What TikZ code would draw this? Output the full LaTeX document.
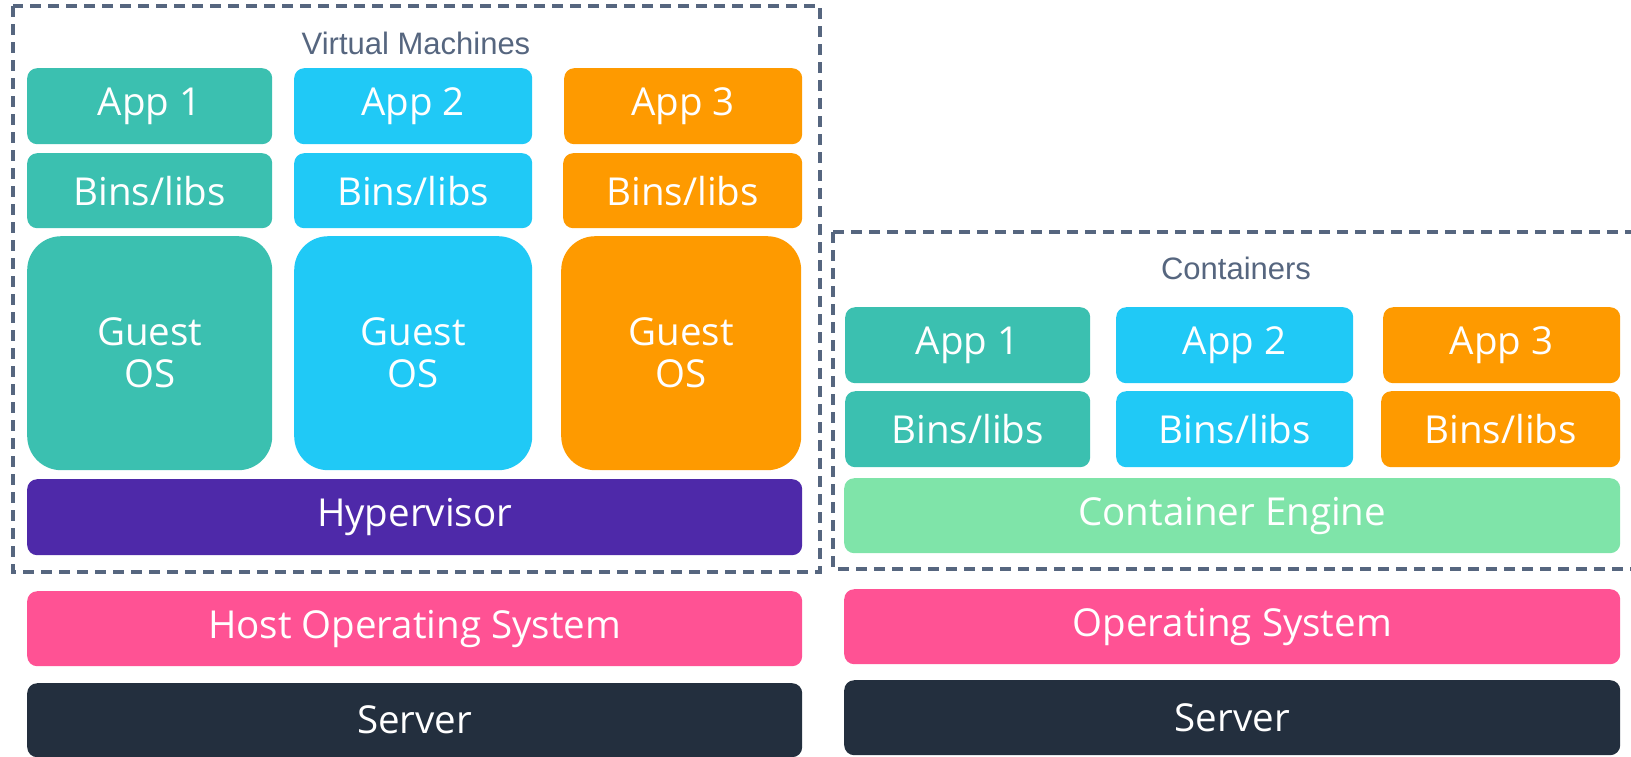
\documentclass[tikz,border=0pt]{standalone}
\usepackage{fontspec}
\setmainfont{Open Sans}
\newfontfamily\titlefont{Liberation Sans}
\definecolor{cteal}{HTML}{3BC0B0}
\definecolor{ccyan}{HTML}{20C9F6}
\definecolor{corange}{HTML}{FE9A00}
\definecolor{cpurple}{HTML}{4E29A9}
\definecolor{cgreen}{HTML}{7FE4A9}
\definecolor{cpink}{HTML}{FF5294}
\definecolor{cdark}{HTML}{232F3E}
\definecolor{cslate}{HTML}{56667F}
\begin{document}
\begin{tikzpicture}[x=1pt,y=-1pt,
  blk/.style={rectangle, rounded corners=10pt, inner sep=0pt, anchor=north west,
    text=white, align=center, font=\fontsize{38.5}{42}\selectfont},
  guest/.style={blk, rounded corners=34pt},
  group/.style={draw=cslate, line width=3.2pt, dash pattern=on 11pt off 7pt},
  grouptitle/.style={text=cslate, font=\titlefont\fontsize{31}{36}\selectfont, inner sep=0pt}]
\useasboundingbox (0,0) rectangle (1631,756);

% ---------- virtual machines ----------
\draw[group] (13,6) rectangle (820,572);
\node[grouptitle] (vmtitle) at (416,43) {Virtual Machines};

\node[blk, fill=cteal, minimum width=245pt, minimum height=76pt] (vapp1) at (27,68) {App 1};
\node[blk, fill=ccyan, minimum width=238pt, minimum height=76pt] (vapp2) at (294,68) {App 2};
\node[blk, fill=corange, minimum width=238pt, minimum height=76pt] (vapp3) at (564,68) {App 3};

\node[blk, fill=cteal, minimum width=245pt, minimum height=75pt] (vbin1) at (27,153) {Bins/libs};
\node[blk, fill=ccyan, minimum width=238pt, minimum height=75pt] (vbin2) at (294,153) {Bins/libs};
\node[blk, fill=corange, minimum width=239pt, minimum height=75pt] (vbin3) at (563,153) {Bins/libs};

\node[guest, fill=cteal, minimum width=245pt, minimum height=234pt] (vos1) at (27,236) {Guest\\OS};
\node[guest, fill=ccyan, minimum width=238pt, minimum height=234pt] (vos2) at (294,236) {Guest\\OS};
\node[guest, fill=corange, minimum width=240pt, minimum height=234pt] (vos3) at (561,236) {Guest\\OS};

\node[blk, fill=cpurple, minimum width=775pt, minimum height=76pt] (hyper) at (27,479) {Hypervisor};
\node[blk, fill=cpink, minimum width=775pt, minimum height=75pt] (hostos) at (27,591) {Host Operating System};
\node[blk, fill=cdark, minimum width=775pt, minimum height=74pt] (vserver) at (27,683) {Server};

% ---------- containers ----------
\draw[group] (833,232) -- (1640,232) (833,232) -- (833,569) -- (1640,569);
\node[grouptitle] (ctitle) at (1236,268) {Containers};

\node[blk, fill=cteal, minimum width=245pt, minimum height=76pt] (capp1) at (845,307) {App 1};
\node[blk, fill=ccyan, minimum width=237pt, minimum height=76pt] (capp2) at (1116,307) {App 2};
\node[blk, fill=corange, minimum width=237pt, minimum height=76pt] (capp3) at (1383,307) {App 3};

\node[blk, fill=cteal, minimum width=245pt, minimum height=76pt] (cbin1) at (845,391) {Bins/libs};
\node[blk, fill=ccyan, minimum width=237pt, minimum height=76pt] (cbin2) at (1116,391) {Bins/libs};
\node[blk, fill=corange, minimum width=239pt, minimum height=76pt] (cbin3) at (1381,391) {Bins/libs};

\node[blk, fill=cgreen, minimum width=776pt, minimum height=75pt] (engine) at (844,478) {Container Engine};
\node[blk, fill=cpink, minimum width=776pt, minimum height=75pt] (os) at (844,589) {Operating System};
\node[blk, fill=cdark, minimum width=776pt, minimum height=75pt] (cserver) at (844,680) {Server};
\end{tikzpicture}
\end{document}
